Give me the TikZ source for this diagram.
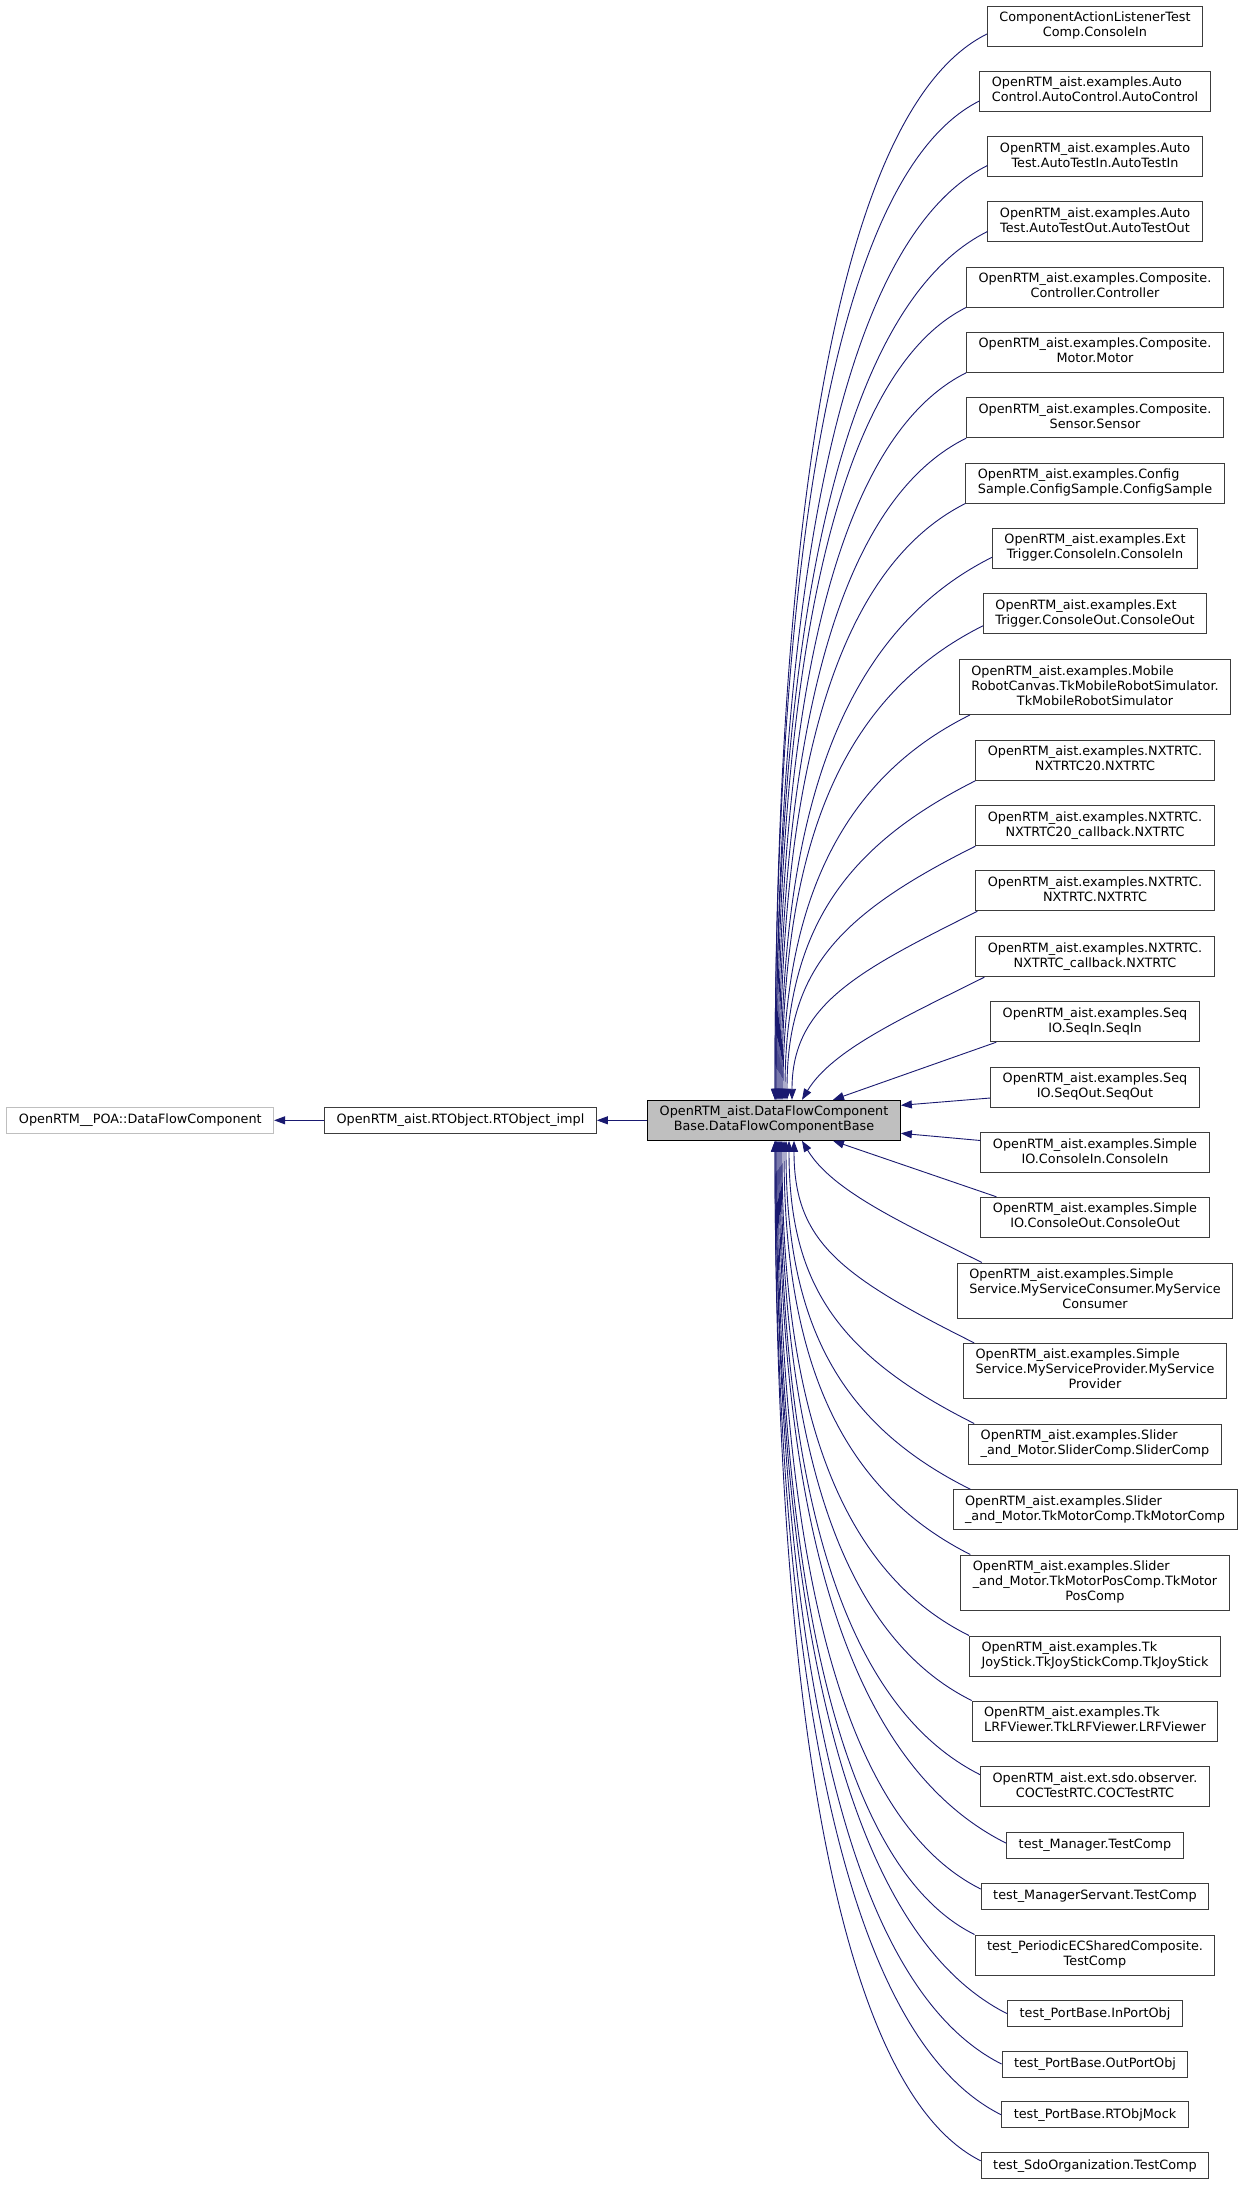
\documentclass[tikz,border=0pt]{standalone}
\usepackage{fontspec}
\setmainfont{DejaVu Sans}
\usepackage{xcolor}
\usepackage{tikz}
\usetikzlibrary{arrows.meta}
\definecolor{edgeBlue}{RGB}{25,25,112}
\definecolor{clsBorder}{RGB}{60,60,60}
\definecolor{extBorder}{RGB}{191,191,191}
\definecolor{baseFill}{RGB}{191,191,191}
% labels: every line left-justified but the last one, which is centred
\newcommand{\twolbl}[2]{\begin{tabular}{@{}l@{}}#1\\\multicolumn{1}{@{}c@{}}{#2}\end{tabular}}
\newcommand{\threelbl}[3]{\begin{tabular}{@{}l@{}}#1\\#2\\\multicolumn{1}{@{}c@{}}{#3}\end{tabular}}

\begin{document}
\begin{tikzpicture}[x=1pt,y=-1pt,
    cls/.style={draw=clsBorder, fill=white, line width=1pt, inner xsep=12pt, inner ysep=5pt,
        minimum height=26pt, font=\fontsize{12.8pt}{15pt}\selectfont},
    focus/.style={cls, draw=black, fill=baseFill},
    extcls/.style={cls, draw=extBorder},
    derived/.style={draw=edgeBlue, line width=0.9pt, -{Triangle[length=11pt,width=8pt]}}]
    \useasboundingbox[fill=white] (0,0) rectangle (1245,2185);

    % base classes
    \node[extcls] (poa) at (140.3,1120.3) {OpenRTM\_\_POA::DataFlowComponent};
    \node[cls] (rtobj) at (460.5,1120.3) {OpenRTM\_aist.RTObject.RTObject\_impl};
    \node[focus] (dfcb) at (774,1120.3) {\twolbl{OpenRTM\_aist.DataFlowComponent}{Base.DataFlowComponentBase}};

    \draw[derived] (rtobj) -- (poa);
    \draw[derived] (dfcb) -- (rtobj);

    % derived classes
    \node[cls] (c01) at (1095,26) {\twolbl{ComponentActionListenerTest}{Comp.ConsoleIn}};
    \node[cls] (c02) at (1095,91) {\twolbl{OpenRTM\_aist.examples.Auto}{Control.AutoControl.AutoControl}};
    \node[cls] (c03) at (1095,156.5) {\twolbl{OpenRTM\_aist.examples.Auto}{Test.AutoTestIn.AutoTestIn}};
    \node[cls] (c04) at (1095,221.5) {\twolbl{OpenRTM\_aist.examples.Auto}{Test.AutoTestOut.AutoTestOut}};
    \node[cls] (c05) at (1095,287) {\twolbl{OpenRTM\_aist.examples.Composite.}{Controller.Controller}};
    \node[cls] (c06) at (1095,352.3) {\twolbl{OpenRTM\_aist.examples.Composite.}{Motor.Motor}};
    \node[cls] (c07) at (1095,417.7) {\twolbl{OpenRTM\_aist.examples.Composite.}{Sensor.Sensor}};
    \node[cls] (c08) at (1095,483) {\twolbl{OpenRTM\_aist.examples.Config}{Sample.ConfigSample.ConfigSample}};
    \node[cls] (c09) at (1095,548.3) {\twolbl{OpenRTM\_aist.examples.Ext}{Trigger.ConsoleIn.ConsoleIn}};
    \node[cls] (c10) at (1095,613.8) {\twolbl{OpenRTM\_aist.examples.Ext}{Trigger.ConsoleOut.ConsoleOut}};
    \node[cls] (c11) at (1095,687) {\threelbl{OpenRTM\_aist.examples.Mobile}{RobotCanvas.TkMobileRobotSimulator.}{TkMobileRobotSimulator}};
    \node[cls] (c12) at (1095,760.3) {\twolbl{OpenRTM\_aist.examples.NXTRTC.}{NXTRTC20.NXTRTC}};
    \node[cls] (c13) at (1095,825.7) {\twolbl{OpenRTM\_aist.examples.NXTRTC.}{NXTRTC20\_callback.NXTRTC}};
    \node[cls] (c14) at (1095,890.8) {\twolbl{OpenRTM\_aist.examples.NXTRTC.}{NXTRTC.NXTRTC}};
    \node[cls] (c15) at (1095,956.7) {\twolbl{OpenRTM\_aist.examples.NXTRTC.}{NXTRTC\_callback.NXTRTC}};
    \node[cls] (c16) at (1095,1021.7) {\twolbl{OpenRTM\_aist.examples.Seq}{IO.SeqIn.SeqIn}};
    \node[cls] (c17) at (1095,1087) {\twolbl{OpenRTM\_aist.examples.Seq}{IO.SeqOut.SeqOut}};
    \node[cls] (c18) at (1095,1152.5) {\twolbl{OpenRTM\_aist.examples.Simple}{IO.ConsoleIn.ConsoleIn}};
    \node[cls] (c19) at (1095,1217.3) {\twolbl{OpenRTM\_aist.examples.Simple}{IO.ConsoleOut.ConsoleOut}};
    \node[cls] (c20) at (1095,1290.5) {\threelbl{OpenRTM\_aist.examples.Simple}{Service.MyServiceConsumer.MyService}{Consumer}};
    \node[cls] (c21) at (1095,1370.8) {\threelbl{OpenRTM\_aist.examples.Simple}{Service.MyServiceProvider.MyService}{Provider}};
    \node[cls] (c22) at (1095,1444) {\twolbl{OpenRTM\_aist.examples.Slider}{\_and\_Motor.SliderComp.SliderComp}};
    \node[cls] (c23) at (1095,1509.8) {\twolbl{OpenRTM\_aist.examples.Slider}{\_and\_Motor.TkMotorComp.TkMotorComp}};
    \node[cls] (c24) at (1095,1582.5) {\threelbl{OpenRTM\_aist.examples.Slider}{\_and\_Motor.TkMotorPosComp.TkMotor}{PosComp}};
    \node[cls] (c25) at (1095,1656) {\twolbl{OpenRTM\_aist.examples.Tk}{JoyStick.TkJoyStickComp.TkJoyStick}};
    \node[cls] (c26) at (1095,1721) {\twolbl{OpenRTM\_aist.examples.Tk}{LRFViewer.TkLRFViewer.LRFViewer}};
    \node[cls] (c27) at (1095,1786.7) {\twolbl{OpenRTM\_aist.ext.sdo.observer.}{COCTestRTC.COCTestRTC}};
    \node[cls] (c28) at (1095,1845.2) {test\_Manager.TestComp};
    \node[cls] (c29) at (1095,1896) {test\_ManagerServant.TestComp};
    \node[cls] (c30) at (1095,1955) {\twolbl{test\_PeriodicECSharedComposite.}{TestComp}};
    \node[cls] (c31) at (1095,2013.7) {test\_PortBase.InPortObj};
    \node[cls] (c32) at (1095,2064) {test\_PortBase.OutPortObj};
    \node[cls] (c33) at (1095,2114.8) {test\_PortBase.RTObjMock};
    \node[cls] (c34) at (1095,2165.8) {test\_SdoOrganization.TestComp};

    % edges into the top of the base
    \draw[derived] ([yshift=-8pt]c01.west) .. controls +(-159,79) and +(0,-533) .. ([xshift=1pt]dfcb.north);
    \draw[derived] ([yshift=-10pt]c02.west) .. controls +(-153,77) and +(0,-500) .. ([xshift=1pt]dfcb.north);
    \draw[derived] ([yshift=-9pt]c03.west) .. controls +(-158,79) and +(0,-468) .. ([xshift=2pt]dfcb.north);
    \draw[derived] ([yshift=-10pt]c04.west) .. controls +(-158,79) and +(0,-435) .. ([xshift=2pt]dfcb.north);
    \draw[derived] (c05.south west) .. controls +(-140,70) and +(0,-397) .. ([xshift=3pt]dfcb.north);
    \draw[derived] (c06.south west) .. controls +(-140,70) and +(0,-364) .. ([xshift=4pt]dfcb.north);
    \draw[derived] (c07.south west) .. controls +(-139,69) and +(0,-332) .. ([xshift=5pt]dfcb.north);
    \draw[derived] (c08.south west) .. controls +(-139,70) and +(0,-299) .. ([xshift=6pt]dfcb.north);
    \draw[derived] ([yshift=-9pt]c09.west) .. controls +(-158,79) and +(0,-272) .. ([xshift=7pt]dfcb.north);
    \draw[derived] ([yshift=-12pt]c10.west) .. controls +(-152,76) and +(0,-237) .. ([xshift=8pt]dfcb.north);
    \draw[derived] ([xshift=11pt]c11.south west) .. controls +(-131,65) and +(0,-193) .. ([xshift=9pt]dfcb.north);
    \draw[derived] (c12.south west) .. controls +(-141,71) and +(0,-160) .. ([xshift=11pt]dfcb.north);
    \draw[derived] (c13.south west) .. controls +(-140,70) and +(0,-128) .. ([xshift=13pt]dfcb.north);
    \draw[derived] ([xshift=2pt]c14.south west) .. controls +(-120,60) and +(0,-95) .. ([xshift=18pt]dfcb.north);
    \draw[derived] ([xshift=9pt]c15.south west) .. controls +(-80,40) and +(30,-50) .. ([xshift=28pt]dfcb.north);
    \draw[derived] ([xshift=6pt]c16.south west) -- ([xshift=59pt]dfcb.north);

    % edges into the side
    \draw[derived] ([yshift=-11pt]c17.west) -- ([yshift=15pt]dfcb.east);
    \draw[derived] ([yshift=12pt]c18.west) -- ([yshift=-13pt]dfcb.east);

    % edges into the bottom
    \draw[derived] ([xshift=16pt]c19.north west) -- ([xshift=59pt]dfcb.south);
    \draw[derived] ([xshift=25pt]c20.north west) .. controls +(-80,-40) and +(30,50) .. ([xshift=28pt]dfcb.south);
    \draw[derived] ([xshift=11pt]c21.north west) .. controls +(-134,-67) and +(0,101) .. ([xshift=20pt]dfcb.south);
    \draw[derived] ([xshift=6pt]c22.north west) .. controls +(-138,-69) and +(0,142) .. ([xshift=15pt]dfcb.south);
    \draw[derived] ([xshift=18pt]c23.north west) .. controls +(-137,-68) and +(0,175) .. ([xshift=12pt]dfcb.south);
    \draw[derived] ([xshift=10pt]c24.north west) .. controls +(-137,-69) and +(0,207) .. ([xshift=10pt]dfcb.south);
    \draw[derived] (c25.north west) .. controls +(-139,-69) and +(0,248) .. ([xshift=8pt]dfcb.south);
    \draw[derived] (c26.north west) .. controls +(-141,-70) and +(0,280) .. ([xshift=7pt]dfcb.south);
    \draw[derived] ([yshift=12pt]c27.west) .. controls +(-149,-75) and +(0,317) .. ([xshift=6pt]dfcb.south);
    \draw[derived] ([yshift=2pt]c28.west) .. controls +(-170,-85) and +(0,351) .. ([xshift=5pt]dfcb.south);
    \draw[derived] ([yshift=7pt]c29.west) .. controls +(-152,-76) and +(0,374) .. ([xshift=4pt]dfcb.south);
    \draw[derived] (c30.north west) .. controls +(-147,-73) and +(0,397) .. ([xshift=3pt]dfcb.south);
    \draw[derived] (c31.west) .. controls +(-173,-87) and +(0,437) .. ([xshift=2pt]dfcb.south);
    \draw[derived] (c32.west) .. controls +(-169,-85) and +(0,462) .. ([xshift=2pt]dfcb.south);
    \draw[derived] (c33.west) .. controls +(-169,-84) and +(0,487) .. ([xshift=1pt]dfcb.south);
    \draw[derived] ([yshift=5pt]c34.west) .. controls +(-154,-77) and +(0,510) .. ([xshift=1pt]dfcb.south);
\end{tikzpicture}
\end{document}
